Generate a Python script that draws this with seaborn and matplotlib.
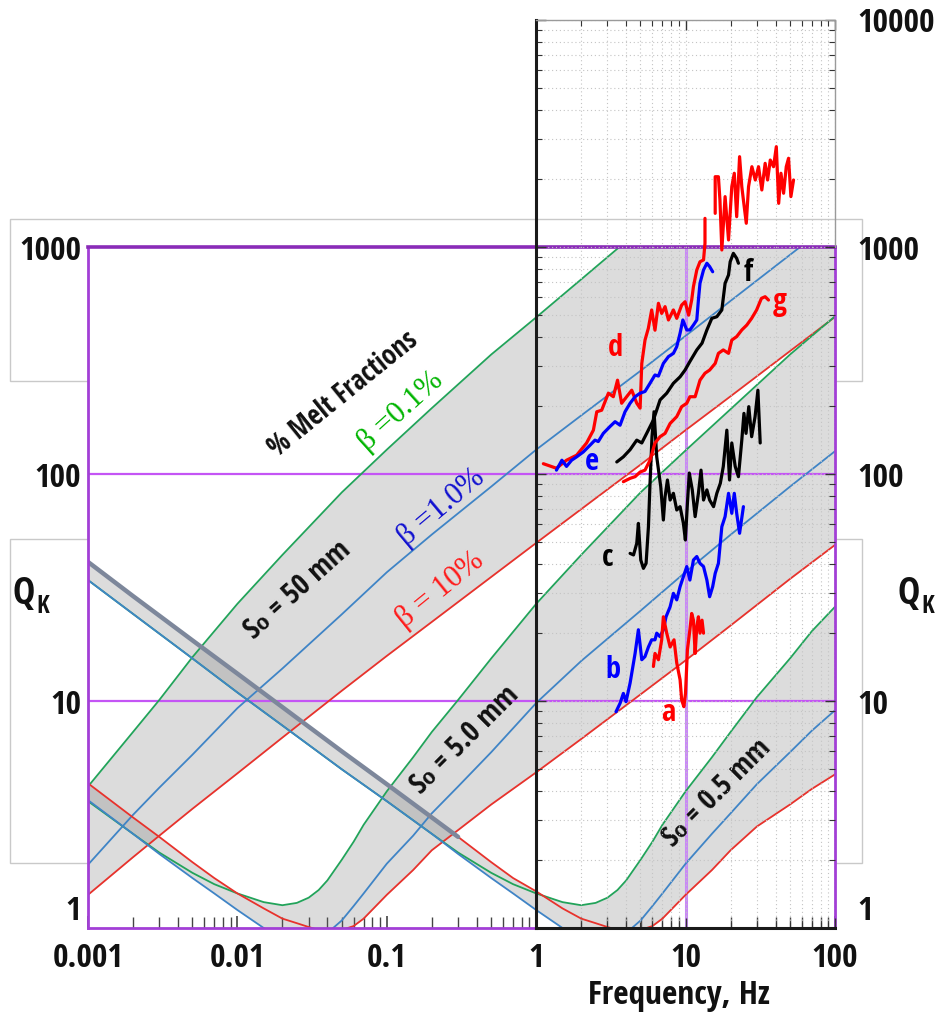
import numpy as np
import matplotlib
matplotlib.use("Agg")
import matplotlib.pyplot as plt
import seaborn as sns
from matplotlib import font_manager
from matplotlib.patches import Rectangle
from matplotlib.ticker import FixedLocator, FixedFormatter, LogLocator, NullFormatter, NullLocator

# ---------------- model curves ----------------
FREQ_50 = [0.001, 0.002, 0.003, 0.005, 0.01, 0.02, 0.05, 0.1, 0.2, 0.5, 1, 2, 5, 10, 20, 50, 100]
Q50_GREEN = [4.2, 7.3, 10.1, 15.6, 26.8, 44, 83, 128, 195, 336, 490, 720, 1200, 1730, 2450, 3850, 5400]
Q50_BLUE = [1.9, 3.15, 4.15, 5.8, 9.3, 13.9, 24.1, 36.9, 54.1, 88, 128, 181, 285, 406, 579, 924, 1314]
Q50_RED = [1.40, 2.05, 2.55, 3.35, 4.8, 6.9, 11.1, 15.8, 22.3, 35.2, 49.7, 70, 110, 156, 220, 348, 492]

FREQ_5 = [0.001, 0.002, 0.003, 0.005, 0.007, 0.01, 0.015, 0.02, 0.025, 0.03, 0.035, 0.04, 0.05,
          0.06, 0.07, 0.1, 0.15, 0.2, 0.3, 0.5, 1, 2, 5, 10, 20, 50, 100]
Q5_GREEN = [3.62, 2.6, 2.15, 1.75, 1.56, 1.42, 1.30, 1.26, 1.29, 1.36, 1.47, 1.62, 2.0,
            2.4, 2.85, 4.0, 5.65, 7.3, 10.1, 15.4, 26.8, 44, 83, 127, 193, 336, 495]
Q5_BLUE = [3.66, 2.6, 2.12, 1.66, 1.42, 1.2, 1.0, 0.9, 0.87, 0.85, 0.89, 0.95, 1.08,
           1.25, 1.42, 1.92, 2.55, 3.2, 4.2, 5.95, 9.8, 15, 25, 37, 54, 88, 126]
Q5_RED = [4.34, 3.07, 2.52, 1.95, 1.66, 1.42, 1.22, 1.1, 1.05, 1.01, 0.98, 0.97, 0.98,
          1.02, 1.1, 1.4, 1.8, 2.2, 2.7, 3.5, 4.85, 6.8, 10.7, 15.1, 21.5, 34.5, 48.7]

FREQ_05 = [0.001, 0.002, 0.005, 0.01, 0.02, 0.05, 0.1, 0.2, 0.3, 0.5, 0.7, 1, 1.5, 2, 2.5, 3,
           3.5, 4, 5, 6, 7, 10, 15, 20, 30, 50, 70, 100]
Q05_GREEN = [34.1, 24.2, 15.4, 10.9, 7.8, 5.0, 3.62, 2.6, 2.15, 1.75, 1.56, 1.42, 1.30, 1.26,
             1.29, 1.36, 1.47, 1.62, 2.0, 2.4, 2.85, 4.0, 5.65, 7.3, 10.4, 15.4, 20.3, 26.0]
Q05_BLUE = [34.1, 24.2, 15.4, 10.9, 7.8, 5.0, 3.62, 2.6, 2.12, 1.66, 1.42, 1.2, 1.0, 0.9,
            0.87, 0.85, 0.89, 0.95, 1.08, 1.25, 1.42, 1.92, 2.6, 3.2, 4.3, 5.95, 7.4, 9.1]
Q05_RED = [41, 29, 18.5, 13.2, 9.4, 6.0, 4.3, 3.07, 2.52, 1.95, 1.66, 1.45, 1.22, 1.1,
           1.05, 1.01, 0.98, 0.97, 0.98, 1.02, 1.1, 1.4, 1.8, 2.2, 2.8, 3.5, 4.1, 4.75]

# ---------------- measured traces ----------------
A_F = [6.10, 6.25, 6.59, 6.93, 7.11, 7.49, 7.89, 8.38, 8.74, 9.2, 9.43, 9.75, 10.0, 10.3, 10.7,
       11.0, 11.3, 11.6, 11.9, 12.2, 12.5, 12.9, 13.2]
A_Q = [14.2, 16.2, 15.2, 18.6, 23.5, 19.9, 17.3, 18.6, 14.7, 12.4, 10.1, 9.44, 10.8, 16.8, 20.6,
       24.3, 22.7, 16.2, 21.2, 23.5, 19.9, 22.7, 19.9]

B_F = [3.43, 3.65, 3.84, 4.00, 4.26, 4.60, 4.84, 5.10, 5.36, 5.65, 5.94, 6.25, 6.42, 6.76, 7.11,
       7.41, 7.89, 8.30, 8.74, 9.2, 9.68, 10.2, 10.7, 11.3, 11.9, 12.5, 13.2, 13.9, 14.5, 15.2,
       15.8, 16.6, 17.5, 18.4, 19.4, 20.4, 21.2, 22.0, 23.0, 24.4]
B_Q = [8.97, 9.77, 10.8, 9.93, 12.0, 16.2, 20.6, 15.2, 15.7, 17.3, 18.6, 18.6, 19.9, 19.2, 20.6,
       23.5, 26.0, 29.8, 27.9, 31.9, 35.3, 39.1, 34.1, 41.8, 43.3, 40.4, 39.1, 34.1, 28.8, 31.9,
       36.5, 40.4, 58.6, 64.9, 82.2, 67.1, 82.2, 67.1, 54.8, 71.8]

C_F = [4.26, 4.49, 4.72, 4.84, 5.02, 5.23, 5.45, 5.65, 5.79, 5.97, 6.16, 6.42, 6.83, 7.11, 7.30,
       7.57, 7.89, 8.30, 8.74, 9.2, 9.68, 9.98, 10.3, 10.6, 11.1, 11.6, 12.2, 12.7, 13.2, 13.9,
       14.5, 15.4, 16.2, 17.1, 17.9, 18.9, 19.7, 20.4, 21.5, 22.6, 23.8, 24.6, 25.4, 26.5, 27.7,
       29.2, 30.5, 31.6]
C_Q = [44.7, 44.0, 49.5, 60.6, 41.8, 38.4, 40.4, 58.6, 91, 146, 188, 119, 87.9, 62.7, 79.4,
       94.1, 76.8, 82.2, 69.4, 71.8, 60.6, 51.2, 74.3, 101, 85.1, 64.9, 82.2, 104, 76.8, 85.1,
       76.8, 71.8, 82.2, 91, 108, 156, 94.1, 137, 108, 97.3, 141, 185, 151, 198, 146,
       179, 234, 137]

D_F = [1.12, 1.37, 1.60, 1.87, 2.18, 2.42, 2.55, 2.75, 3.05, 3.29, 3.51, 3.74, 4.04, 4.37, 4.72,
       4.97, 5.10, 5.36, 5.64, 5.94, 6.25, 6.59, 6.93, 7.30, 7.69, 8.30, 8.74, 9.43, 9.93, 10.5,
       11.0, 11.3, 11.9, 12.5, 13.2, 13.5, 13.5]
D_Q = [111, 106, 115, 121, 137, 156, 188, 191, 227, 219, 259, 205, 219, 234, 205,
       195, 307, 389, 438, 528, 430, 565, 510, 546, 477, 528, 485, 555, 574, 501,
       584, 669, 792, 861, 877, 1038, 1337]
DH_F = [15.8, 15.8, 16.6, 17.0, 17.5, 18.4, 19.4, 20.4, 21.2, 22.0, 23.0, 23.8, 24.4, 25.5,
        26.4, 27.8, 29.3, 30.8, 32.4, 34.1, 35.4, 36.9, 38.8, 40.5, 42.0, 43.5, 45.3, 47.2,
        48.9, 50.7, 52.8]
DH_Q = [1407, 2040, 2040, 1610, 970, 1667, 1074, 1844, 2113, 1360, 2500, 1844, 1610, 1272,
        1844, 2258, 1973, 2258, 1783, 2337, 1973, 2416, 2258, 2767, 1557, 2113, 1725, 2258,
        2460, 1667, 1973]

E_F = [1.37, 1.49, 1.60, 1.73, 1.87, 2.07, 2.30, 2.48, 2.61, 2.82, 3.13, 3.38, 3.65, 3.94, 4.26,
       4.60, 4.97, 5.36, 5.79, 6.25, 6.59, 7.11, 7.69, 8.30, 8.74, 9.2, 9.6, 10.2, 10.7, 11.3,
       11.9, 12.2, 12.5, 13.2, 13.9, 14.5, 15.2]
E_Q = [104, 115, 108, 115, 119, 125, 134, 141, 139, 151, 162, 170, 164, 188, 205,
       219, 227, 231, 251, 273, 270, 307, 329, 340, 364, 417, 477, 431, 431, 453,
       477, 584, 692, 792, 848, 820, 778]

F_F = [3.47, 3.84, 4.26, 4.72, 5.10, 5.50, 6.10, 6.76, 7.49, 8.30, 9.2, 9.93, 10.7, 11.9, 12.9,
       13.9, 15.0, 16.2, 17.5, 18.4, 19.4, 19.9, 20.9, 22.0, 22.6]
F_Q = [113, 119, 128, 141, 137, 151, 173, 212, 227, 251, 268, 287, 313, 352, 377,
       431, 485, 493, 528, 692, 753, 861, 938, 891, 848]

G_F = [3.84, 4.26, 4.60, 4.97, 5.36, 5.79, 6.25, 6.76, 7.30, 7.89, 8.74, 9.43, 10.2, 10.7, 11.6,
       12.5, 13.5, 14.5, 15.8, 16.6, 17.9, 19.4, 20.4, 22.0, 23.8, 25.7, 27.7, 29.9, 32.2, 34.1,
       35.9]
G_Q = [92.5, 95.7, 97.3, 102, 104, 115, 137, 146, 151, 167, 179, 198, 205, 219, 219,
       259, 278, 287, 307, 340, 352, 340, 389, 403, 431, 453, 485, 528, 594, 604,
       584]

X_TICKS = [0.001, 0.01, 0.1, 1, 10, 100]
X_LABELS = ["0.001", "0.01", "0.1", "1", "10", "100"]
Y_TICKS = [1, 10, 100, 1000]
Y_LABELS = ["1", "10", "100", "1000"]
Y2_TICKS = [1, 10, 100, 1000, 10000]
Y2_LABELS = ["1", "10", "100", "1000", "10000"]

# ---------------- fonts ----------------
sns.set_theme(style="white")
ttf = font_manager.fontManager.ttflist


def has(name, stretch=None):
    return any(f.name == name and (stretch is None or str(f.stretch) == stretch) for f in ttf)


CHOICES = [("Liberation Sans Narrow", None, 1.0), ("Arial Narrow", None, 1.0),
           ("Noto Sans Condensed", None, 1.0), ("Noto Sans", "condensed", 1.0),
           ("Open Sans Condensed", None, 1.0), ("Open Sans", "condensed", 1.0),
           ("Roboto Condensed", None, 1.0), ("Roboto", "condensed", 1.0),
           ("Roboto", None, 0.86), ("DejaVu Sans", None, 0.8)]
SANS, STRETCH, SC = "DejaVu Sans", None, 0.8
for name, st, sc in CHOICES:
    if has(name, st):
        SANS, STRETCH, SC = name, st, sc
        break
plt.rcParams["font.family"] = [SANS, "DejaVu Sans"]
plt.rcParams["font.weight"] = "bold"
if STRETCH:
    plt.rcParams["font.stretch"] = STRETCH

GREEN, BLUE, RED = "#22a35a", "#3f84c6", "#e8322c"
FILL = "#6e6e6e"
PURPLE = "#a23fd6"
SERIF = ["Liberation Serif", "DejaVu Serif"]

W, H = 939, 1021
fig = plt.figure(figsize=(W / 100, H / 100), dpi=100)
fig.patch.set_facecolor("white")


def fx(px):
    return px / W


def fy(py):
    return 1 - py / H


for (x0, y0, x1, y1) in [(10, 219, 862, 381), (10, 539, 862, 863)]:
    fig.add_artist(Rectangle((fx(x0), fy(y1)), fx(x1) - fx(x0), fy(y0) - fy(y1),
                             transform=fig.transFigure, fill=False, ec="#c9c9c9",
                             lw=1.0, zorder=0))

# ---------------- main axes ----------------
ax = fig.add_axes([fx(88), fy(928), fx(835) - fx(88), fy(247) - fy(928)], zorder=1)
ax.set_xscale("log")
ax.set_yscale("log")
ax.set_xlim(1e-3, 100)
ax.set_ylim(1, 1000)
ax.set_facecolor("white")
for name, sp in ax.spines.items():
    sp.set_color(PURPLE)
    sp.set_linewidth(2.0)
ax.spines["top"].set_color("#8a2bb8")
ax.spines["top"].set_linewidth(2.6)

ax.axhline(10, color="#c455f5", lw=1.6, zorder=1.5)
ax.axhline(100, color="#c455f5", lw=1.6, zorder=1.5)
ax.axvline(10, color="#c98af5", lw=2.2, zorder=1.5)

families = [(FREQ_50, Q50_GREEN, Q50_BLUE, Q50_RED),
            (FREQ_5, Q5_GREEN, Q5_BLUE, Q5_RED),
            (FREQ_05, Q05_GREEN, Q05_BLUE, Q05_RED)]
for f, g, b, r in families:
    stack = np.vstack([g, b, r])
    ax.fill_between(f, stack.min(axis=0), stack.max(axis=0), color=FILL, alpha=0.235,
                    lw=0, zorder=1)
for f, g, b, r in families:
    for q, c in [(g, GREEN), (r, RED), (b, BLUE)]:
        sns.lineplot(x=f, y=q, ax=ax, color=c, lw=1.3, estimator=None, sort=False,
                     legend=False, zorder=2)

f05 = np.array(FREQ_05)
m = f05 <= 0.3
sns.lineplot(x=f05[m], y=np.array(Q05_RED)[m], ax=ax, color="#7d879b", lw=3.2,
             estimator=None, sort=False, legend=False, zorder=2.5)

TICK_FS = 24 * SC
ax.set_xticks(X_TICKS)
ax.set_xticklabels(X_LABELS)
ax.xaxis.set_minor_locator(LogLocator(base=10, subs=np.arange(2, 10), numticks=30))
ax.xaxis.set_minor_formatter(NullFormatter())
ax.tick_params(axis="x", which="both", direction="in", color="#444444", bottom=True, top=False)
ax.tick_params(axis="x", which="major", length=9, width=1.2, labelsize=TICK_FS, pad=10,
               labelcolor="#111111")
ax.tick_params(axis="x", which="minor", length=8, width=1.0)
ax.set_yticks(Y_TICKS)
ax.set_yticklabels(Y_LABELS)
ax.yaxis.set_minor_locator(NullLocator())
ax.tick_params(axis="y", which="both", length=0, labelsize=TICK_FS, pad=5, labelcolor="#111111")
ax.set_xlabel("")
ax.set_ylabel("")

TXT = dict(ha="center", va="center", rotation_mode="anchor", zorder=4)
ax.text(0.0511, 223, "% Melt Fractions", rotation=39, fontsize=20 * SC, color="#111111", **TXT)
ax.text(0.125, 188, "β =0.1%", rotation=42, fontsize=22, color="#00b400",
        family=SERIF, fontweight="normal", **TXT)
ax.text(0.231, 70.8, "β =1.0%", rotation=40, fontsize=22, color="#1010d0",
        family=SERIF, fontweight="normal", **TXT)
ax.text(0.228, 30.8, "β = 10%", rotation=39, fontsize=22, color="#ff1a1a",
        family=SERIF, fontweight="normal", **TXT)
ax.text(0.0255, 30.8, "S₀ = 50 mm", rotation=42, fontsize=21 * SC, color="#111111", **TXT)
ax.text(0.335, 6.73, "S₀ = 5.0 mm", rotation=45, fontsize=21 * SC, color="#111111", **TXT)
ax.text(16.3, 3.93, "S₀ = 0.5 mm", rotation=45, fontsize=21 * SC, color="#111111", **TXT)

# ---------------- right (high-frequency) panel ----------------
ax2 = fig.add_axes([fx(536), fy(928), fx(835) - fx(536), fy(20) - fy(928)], zorder=2)
ax2.set_xscale("log")
ax2.set_yscale("log")
ax2.set_xlim(1, 100)
ax2.set_ylim(1, 10000)
ax2.patch.set_alpha(0)
ax2.set_axisbelow(True)
ax2.grid(True, which="both", color="#c4c4c4", lw=0.8, ls=(0, (1, 2.5)))
ax2.spines["left"].set_color("#1a1a1a")
ax2.spines["left"].set_linewidth(2.2)
ax2.spines["bottom"].set_color("#1a1a1a")
ax2.spines["bottom"].set_linewidth(2.2)
ax2.spines["top"].set_color("#9a9a9a")
ax2.spines["top"].set_linewidth(1.0)
ax2.spines["right"].set_visible(False)
ax2.axvline(100, ymin=0.75, ymax=1, color="#9a9a9a", lw=1.0, clip_on=False)

ax2.yaxis.set_major_locator(FixedLocator(Y2_TICKS))
ax2.yaxis.set_major_formatter(FixedFormatter(Y2_LABELS))
ax2.yaxis.set_minor_locator(LogLocator(base=10, subs=np.arange(2, 10), numticks=30))
ax2.yaxis.set_minor_formatter(NullFormatter())
ax2.xaxis.set_minor_formatter(NullFormatter())
ax2.tick_params(axis="both", which="both", direction="in", top=True, bottom=True, left=True,
                right=True, labelleft=False, labelbottom=False, labelright=True,
                color="#333333")
ax2.tick_params(which="major", length=7, width=1)
ax2.tick_params(which="minor", length=4, width=0.8)
ax2.tick_params(axis="y", labelsize=TICK_FS, pad=16, labelcolor="#111111")

traces = [(B_F, B_Q, "#0000ff"), (A_F, A_Q, "#ff0000"), (C_F, C_Q, "black"),
          (F_F, F_Q, "black"), (G_F, G_Q, "#ff0000"), (D_F, D_Q, "#ff0000"),
          (DH_F, DH_Q, "#ff0000"), (E_F, E_Q, "#0000ff")]
for f, q, c in traces:
    sns.lineplot(x=f, y=q, ax=ax2, color=c, lw=2.3, estimator=None, sort=False,
                 legend=False, zorder=3)
ax2.set_xlabel("")
ax2.set_ylabel("")

LETTERS = [("a", 7.65, 8.85, "#ff0000"), ("b", 3.27, 13.7, "#0000ff"), ("c", 3.03, 42.7, "black"),
           ("d", 3.38, 359, "#ff0000"), ("e", 2.37, 113, "#0000ff"), ("f", 26.2, 768, "black"),
           ("g", 43.0, 572, "#ff0000")]
for s, x, y, c in LETTERS:
    ax2.text(x, y, s, color=c, fontsize=22 * SC, ha="center", va="center", zorder=5)

# axis titles
for cx in (24, 909):
    fig.text(fx(cx), fy(594), "Q", fontsize=27 * SC, ha="center", va="center", color="#111111")
    fig.text(fx(cx + 19), fy(606), "K", fontsize=18 * SC, ha="center", va="center",
             color="#111111")
fig.text(fx(679), fy(995), "Frequency, Hz", fontsize=24 * SC, ha="center", va="center",
         color="#111111")

ax.yaxis.get_major_ticks()[0].label1.set_verticalalignment("bottom")
ax2.yaxis.get_major_ticks()[0].label2.set_verticalalignment("bottom")

fig.savefig("out.png", dpi=100)
